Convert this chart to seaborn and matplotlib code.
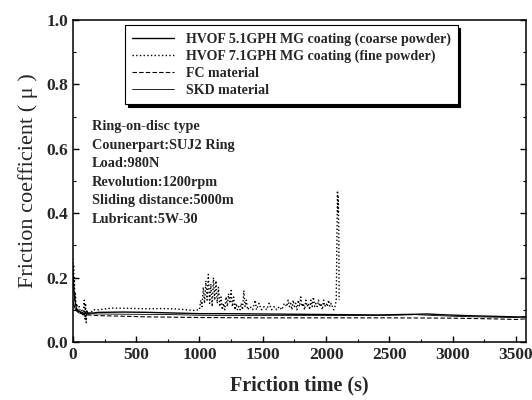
import pandas as pd
import numpy as np
import matplotlib
matplotlib.use("Agg")
import matplotlib.pyplot as plt
import seaborn as sns
from matplotlib.ticker import MultipleLocator

# valeurs
coarse_t = [0, 10, 20, 30, 50, 80, 120, 160, 200, 400, 600, 800, 1000, 1200, 1500,
            1800, 2100, 2400, 2700, 2800, 2900, 3100, 3300, 3500, 3580]
coarse_mu = [0.22, 0.15, 0.12, 0.10, 0.095, 0.09, 0.09, 0.09, 0.092, 0.093, 0.092, 0.09,
             0.088, 0.088, 0.087, 0.086, 0.085, 0.084, 0.086, 0.087, 0.085, 0.082, 0.08,
             0.078, 0.077]

fine_t = [0, 3, 6, 9, 12, 15, 20, 25, 30, 40, 50, 60, 70, 80, 90, 95, 100, 105, 110,
          120, 140, 160, 200, 300, 400, 500, 600, 700, 800, 900, 950, 990,
          1000, 1010, 1020, 1030, 1040, 1050, 1060, 1070, 1080, 1090, 1100, 1110, 1120,
          1130, 1140, 1150, 1160, 1170, 1180, 1190, 1200, 1210, 1220, 1230, 1240, 1250,
          1260, 1270, 1280, 1290, 1300, 1310, 1320, 1330, 1340, 1350, 1360, 1370, 1380,
          1400, 1420, 1440, 1450, 1470, 1490, 1510, 1530, 1550, 1570, 1590, 1610, 1630,
          1650, 1670, 1690, 1700, 1710, 1720, 1730, 1740, 1750, 1760, 1770, 1780, 1790,
          1800, 1810, 1820, 1830, 1840, 1850, 1860, 1870, 1880, 1890, 1900, 1910, 1920,
          1930, 1940, 1950, 1960, 1970, 1980, 1990, 2000, 2010, 2020, 2030, 2040, 2050,
          2060, 2070, 2080, 2085, 2090, 2093, 2096, 2100, 2103]
fine_mu = [0.26, 0.20, 0.24, 0.16, 0.20, 0.13, 0.15, 0.11, 0.12, 0.10, 0.11, 0.09, 0.10,
           0.08, 0.13, 0.07, 0.12, 0.06, 0.10, 0.085, 0.09, 0.10, 0.10, 0.105, 0.105,
           0.104, 0.103, 0.104, 0.103, 0.10, 0.098, 0.10,
           0.10, 0.13, 0.11, 0.17, 0.12, 0.19, 0.13, 0.21, 0.12, 0.18, 0.11, 0.20, 0.13,
           0.19, 0.12, 0.17, 0.11, 0.14, 0.10, 0.12, 0.10, 0.14, 0.11, 0.15, 0.12, 0.16,
           0.11, 0.14, 0.10, 0.12, 0.10, 0.11, 0.10, 0.12, 0.10, 0.16, 0.11, 0.13, 0.10,
           0.11, 0.10, 0.13, 0.10, 0.12, 0.10, 0.11, 0.10, 0.12, 0.10, 0.11, 0.10, 0.11,
           0.10, 0.12, 0.11, 0.13, 0.11, 0.12, 0.10, 0.13, 0.11, 0.12, 0.10, 0.13, 0.11,
           0.14, 0.11, 0.12, 0.10, 0.13, 0.11, 0.12, 0.10, 0.13, 0.11, 0.14, 0.11, 0.12,
           0.11, 0.13, 0.11, 0.12, 0.10, 0.13, 0.11, 0.12, 0.11, 0.13, 0.11, 0.12, 0.11,
           0.10, 0.11, 0.13, 0.30, 0.47, 0.40, 0.45, 0.35, 0.13]

fc_t = [0, 20, 50, 100, 150, 200, 400, 600, 800, 1000, 1500, 2000, 2500, 3000, 3300,
        3500, 3580]
fc_mu = [0.12, 0.10, 0.09, 0.085, 0.083, 0.082, 0.08, 0.078, 0.077, 0.076, 0.075, 0.075,
         0.075, 0.074, 0.072, 0.07, 0.072]

skd_t = [0, 20, 50, 100, 200, 500, 800, 1000, 1500, 2000, 2500, 2700, 3000, 3200, 3500,
         3580]
skd_mu = [0.13, 0.10, 0.09, 0.088, 0.087, 0.086, 0.085, 0.083, 0.082, 0.082, 0.083,
          0.085, 0.08, 0.078, 0.076, 0.08]

labels = ["HVOF 5.1GPH MG coating (coarse powder)",
          "HVOF 7.1GPH MG coating (fine powder)",
          "FC material",
          "SKD material"]

conditions = ["Ring-on-disc type", "Counerpart:SUJ2 Ring", "Load:980N",
              "Revolution:1200rpm", "Sliding distance:5000m", "Lubricant:5W-30"]

sns.set_style("ticks")
plt.rcParams['font.family'] = ['Liberation Serif', 'DejaVu Serif']

fig = plt.figure(figsize=(5.32, 4.0), dpi=100)
ax = fig.add_axes([0.137, 0.145, 0.852, 0.805])

series = [(coarse_t, coarse_mu, '-', 1.0),
          (fine_t, fine_mu, ':', 1.0),
          (fc_t, fc_mu, (0, (4, 2)), 0.8),
          (skd_t, skd_mu, '-', 0.6)]
for (t, mu, ls, lw), lab in zip(series, labels):
    sns.lineplot(x=t, y=mu, ax=ax, color='black', linestyle=ls, linewidth=lw,
                 label=lab, estimator=None, sort=False)

ax.set_xlim(0, 3580)
ax.set_ylim(0, 1.0)
ax.xaxis.set_major_locator(MultipleLocator(500))
ax.xaxis.set_minor_locator(MultipleLocator(250))
ax.yaxis.set_major_locator(MultipleLocator(0.2))
ax.yaxis.set_minor_locator(MultipleLocator(0.1))
ax.yaxis.set_major_formatter(matplotlib.ticker.FormatStrFormatter('%.1f'))
ax.tick_params(which='both', direction='in', color='black', top=False, right=True)
ax.tick_params(which='major', length=4, width=1, labelsize=12.5)
ax.tick_params(which='minor', length=2, width=0.8)
for lab in ax.get_xticklabels() + ax.get_yticklabels():
    lab.set_fontweight('bold')
for s in ax.spines.values():
    s.set_color('black')
    s.set_linewidth(1.1)

ax.set_xlabel("Friction time (s)", fontsize=14.5, fontweight='bold', labelpad=9)
ax.set_ylabel("Friction coefficient ( \u03bc )", fontsize=16, labelpad=6)

leg = ax.legend(loc='upper left', bbox_to_anchor=(0.1, 1.005), frameon=True,
                fancybox=False, shadow={'color': 'black', 'alpha': 1},
                edgecolor='black', handlelength=3.0, borderpad=0.5, labelspacing=0.28,
                prop={'family': 'Liberation Serif', 'weight': 'bold', 'size': 10.1})
leg.get_frame().set_linewidth(0.8)

ax.text(0.042, 0.688, "\n".join(conditions), transform=ax.transAxes, ha='left', va='top',
        fontsize=10.3, fontweight='bold', linespacing=1.55)

fig.savefig("out.png", dpi=100)
